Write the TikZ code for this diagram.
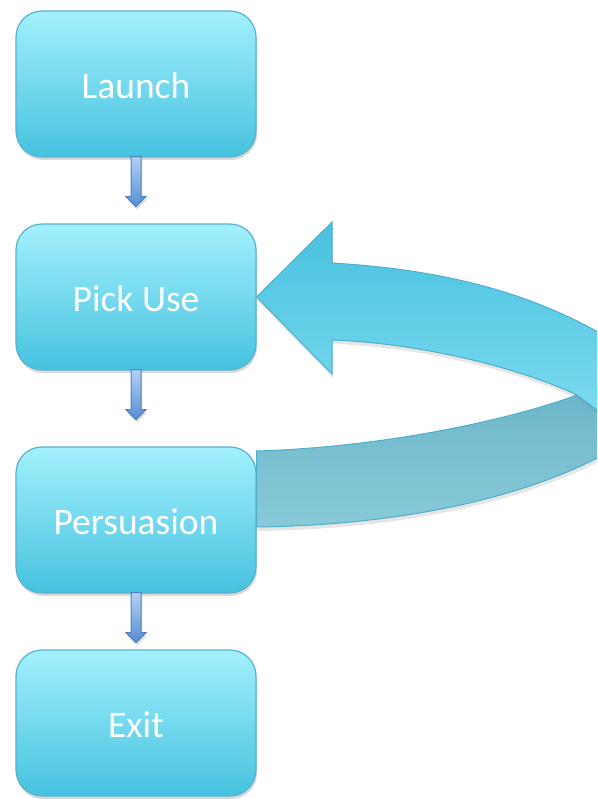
\documentclass[tikz,border=0pt]{standalone}
\usepackage{fontspec}
\setmainfont{Carlito}
\usetikzlibrary{calc,shadows}

\definecolor{boxtop}{RGB}{163,240,252}
\definecolor{boxbot}{RGB}{70,194,224}
\definecolor{boxline}{RGB}{88,178,206}
\definecolor{arrtop}{RGB}{178,208,246}
\definecolor{arrbot}{RGB}{88,142,212}
\definecolor{arrline}{RGB}{79,129,189}
\definecolor{loophi}{RGB}{72,193,223}
\definecolor{looplo}{RGB}{126,220,240}
\definecolor{backhi}{RGB}{106,181,201}
\definecolor{backlo}{RGB}{136,202,216}
\definecolor{loopline}{RGB}{78,174,204}

\tikzset{
  stepbox/.style={rounded corners=26pt, minimum width=240pt, minimum height=146pt,
    draw=boxline, line width=1.2pt, top color=boxtop, bottom color=boxbot,
    text=white, font=\fontsize{37.5}{40}\selectfont, text height=29pt, text depth=0pt,
    drop shadow={shadow xshift=1pt, shadow yshift=-3pt, opacity=0.3}},
  flowarrow/.style={draw=arrline, line width=1pt, top color=arrtop, bottom color=arrbot,
    drop shadow={shadow xshift=1pt, shadow yshift=-3pt, opacity=0.25}},
  loopfront/.style={draw=loopline, line width=1pt, top color=loophi, bottom color=looplo,
    drop shadow={shadow xshift=1pt, shadow yshift=-4pt, opacity=0.2}},
  loopback/.style={draw=loopline, line width=1pt, top color=backhi, bottom color=backlo,
    drop shadow={shadow xshift=1pt, shadow yshift=-4pt, opacity=0.2}}
}

% short fat arrow under a step
\newcommand{\flowarrow}[1]{%
  \draw[flowarrow] ($(#1.south)+(-5,-1)$) -- ++(0,40) -- ++(-5,0) -- ++(10,10)
    -- ++(10,-10) -- ++(-5,0) -- ++(0,-40) -- cycle;}

\begin{document}
\begin{tikzpicture}[x=1pt,y=-1pt]
    \useasboundingbox (0,0) rectangle (597,799);
    \clip (0,0) rectangle (597,799);

    % Steps
    \node[stepbox] (launch) at (136,84) {Launch};
    \node[stepbox] (pick) at (136,297) {Pick Use};
    \node[stepbox] (pers) at (136,520) {Persuasion};
    \node[stepbox] (exit) at (136,723) {Exit};

    % Arrows between steps
    \flowarrow{launch}
    \flowarrow{pick}
    \flowarrow{pers}

    % Loop back from Persuasion to Pick Use - back half of the ribbon
    \draw[loopback] (pers.east |- 0,451) .. controls (390,447) and (515,418) .. (577,395)
        -- (640,380) -- (640,432) .. controls (560,490) and (420,525) .. (pers.east |- 0,527) -- cycle;

    % front half with the head
    \draw[loopfront] (pick.east) -- (332,222) -- (332,263)
        .. controls (450,270) and (540,295) .. (620,345)
        -- (620,428) -- (577,395)
        .. controls (520,368) and (420,343) .. (332,340)
        -- (332,374) -- cycle;
\end{tikzpicture}
\end{document}
